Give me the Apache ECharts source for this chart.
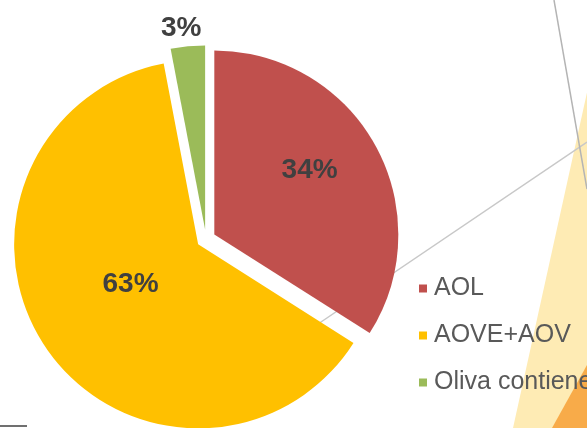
<!DOCTYPE html>
<html>
<head>
<meta charset="utf-8">
<script src="https://cdn.jsdelivr.net/npm/echarts@6/dist/echarts.min.js"></script>
<style>
  html, body { margin: 0; padding: 0; background: #ffffff; }
  #chart { width: 587px; height: 428px; }
</style>
</head>
<body>
<div id="chart"></div>
<script>
// oil categories and their share (%)
const categories = ["AOL", "AOVE+AOV", "Oliva contiene"];
const shares = [34, 63, 3];
const palette = ["#C0504D", "#FFC000", "#9BBB59"];

// nudges so labels sit where the slide put them
const labelShift = [
    { dx: 12, dy: -18 },
    { dx: 11, dy: -13 },
    { dx: -15, dy: -107 },
];

const chart = echarts.init(document.getElementById("chart"));

const option = {
    animation: false,
    backgroundColor: "#ffffff",
    graphic: [
        // slide background decorations
        {
            type: "polygon",
            z: 0,
            shape: { points: [[588, 88], [513, 428], [600, 428], [600, 88]] },
            style: { fill: "#FEEBB4" },
        },
        {
            type: "polygon",
            z: 0,
            shape: { points: [[587, 365], [552, 428], [587, 428]] },
            style: { fill: "#F8AB49" },
        },
        {
            type: "line",
            z: 0,
            shape: { x1: 587, y1: 142, x2: 250, y2: 370 },
            style: { stroke: "#C8C8C8", lineWidth: 1.5 },
        },
        {
            type: "line",
            z: 0,
            shape: { x1: 554, y1: 0, x2: 587, y2: 189 },
            style: { stroke: "#B4B4B4", lineWidth: 1.5 },
        },
        {
            type: "line",
            z: 0,
            shape: { x1: 0, y1: 426, x2: 27, y2: 426 },
            style: { stroke: "#404040", lineWidth: 1.5 },
        },
    ],
    legend: {
        orient: "vertical",
        left: 419,
        top: 276,
        padding: 0,
        icon: "rect",
        itemWidth: 8,
        itemHeight: 8,
        itemGap: 22,
        selectedMode: false,
        textStyle: {
            fontFamily: "Liberation Sans",
            fontSize: 25,
            lineHeight: 24,
            color: "#595959",
            padding: [0, 0, 0, 2],
        },
        data: categories,
    },
    series: [
        {
            type: "pie",
            center: [206, 239],
            radius: 184,
            startAngle: 90,
            clockwise: true,
            selectedMode: "multiple",
            selectedOffset: 9.5,
            avoidLabelOverlap: false,
            emphasis: { disabled: true },
            select: { itemStyle: { borderWidth: 0 } },
            label: {
                show: true,
                position: "inside",
                formatter: "{c}%",
                fontFamily: "Liberation Sans",
                fontSize: 28,
                fontWeight: "bold",
                color: "#404040",
            },
            labelLine: { show: false },
            labelLayout: function (params) {
                return labelShift[params.dataIndex];
            },
            data: categories.map(function (name, i) {
                return {
                    name: name,
                    value: shares[i],
                    selected: true,
                    itemStyle: { color: palette[i] },
                };
            }),
        },
    ],
};

chart.setOption(option);
</script>
</body>
</html>
